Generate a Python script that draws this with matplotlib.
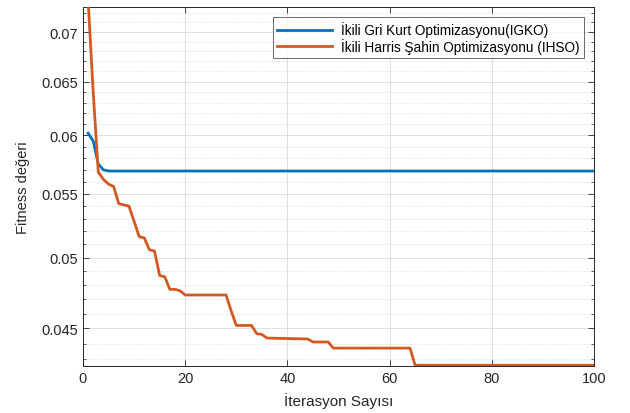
import numpy as np
import matplotlib
matplotlib.use('Agg')
import matplotlib.pyplot as plt
from matplotlib.ticker import FixedLocator, FormatStrFormatter

plt.rcParams['font.family'] = ['Liberation Sans', 'DejaVu Sans']

# IGKO (mavi) - degisim noktalari
igko_iter = [1, 2, 3, 4, 5, 100]
igko_fit = [0.0602, 0.0595, 0.0575, 0.0570, 0.0569, 0.0569]

# IHSO (turuncu) - degisim noktalari
ihso_iter = [1, 2, 3, 4, 5, 6, 7, 8, 9, 10, 11, 12, 13, 14, 15, 16, 17, 18, 19, 20,
             28, 29, 30, 33, 34, 35, 36, 41, 44, 45, 48, 49, 64, 65, 100]
ihso_fit = [0.0735, 0.0640, 0.0568, 0.0562, 0.0558, 0.0556, 0.0542, 0.0541, 0.0540, 0.0528,
            0.0516, 0.0515, 0.0506, 0.0505, 0.0487, 0.0486, 0.0477, 0.0477, 0.0476, 0.0473,
            0.0473, 0.0462, 0.0452, 0.0452, 0.04465, 0.0446, 0.04436, 0.04432, 0.0443, 0.0441,
            0.0441, 0.0437, 0.0437, 0.0426, 0.0426]

labels = ['İkili Gri Kurt Optimizasyonu(IGKO)', 'İkili Harris Şahin Optimizasyonu (IHSO)']
y_major = [0.045, 0.05, 0.055, 0.06, 0.065, 0.07]
y_minor = [v / 1000 for v in range(43, 73) if v % 5 != 0]
x_major = [0, 20, 40, 60, 80, 100]

fig = plt.figure(figsize=(6.3, 4.14), dpi=100)
ax = fig.add_axes([0.1317, 0.1135, 0.8111, 0.8672])

ax.plot(igko_iter, igko_fit, color='#0072BD', linewidth=2, label=labels[0], zorder=3)
ax.plot(ihso_iter, ihso_fit, color='#D25A22', linewidth=2, label=labels[1], zorder=3)

ax.set_yscale('log')
ax.set_xlim(0, 100)
ax.set_ylim(0.04255, 0.07266)

ax.yaxis.set_major_locator(FixedLocator(y_major))
ax.yaxis.set_minor_locator(FixedLocator(y_minor))
ax.yaxis.set_major_formatter(FormatStrFormatter('%g'))
ax.yaxis.set_minor_formatter(plt.NullFormatter())
ax.xaxis.set_major_locator(FixedLocator(x_major))

ax.grid(which='major', color='#d9d9d9', linestyle='-', linewidth=0.6, zorder=0)
ax.grid(which='minor', axis='y', color='#dcdcdc', linestyle=(0, (3, 2)), linewidth=0.5, zorder=0)

ax.tick_params(which='both', direction='in', top=True, right=True, colors='#262626',
               labelsize=10.5)
ax.tick_params(which='major', length=4, width=0.6)
ax.tick_params(which='minor', length=2.5, width=0.5)
for s in ax.spines.values():
    s.set_color('#262626')
    s.set_linewidth(0.7)

ax.set_xlabel('İterasyon Sayısı', fontsize=11, color='#262626', labelpad=5)
ax.set_ylabel('Fitness değeri', fontsize=10.5, color='#262626', labelpad=8)

leg = ax.legend(loc='upper right', fontsize=9.8, frameon=True, fancybox=False,
                edgecolor='#262626', handlelength=4.0, handletextpad=0.7,
                borderaxespad=0.75, labelspacing=0.05, borderpad=0.3)
leg.get_frame().set_linewidth(0.6)

fig.savefig('out.png', dpi=100)
